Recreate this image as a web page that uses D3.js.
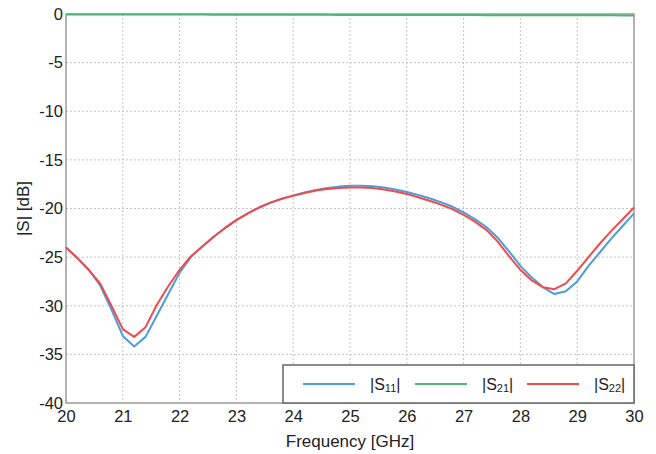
<!DOCTYPE html>
<html><head><meta charset="utf-8">
<script src="https://cdn.jsdelivr.net/npm/d3@7"></script>
<style>body{margin:0;background:#fff;} svg{display:block;font-family:"Liberation Sans",Arial,sans-serif;}</style>
</head><body><svg id="c" width="656" height="454"></svg>
<script>
const freq = [20.0,20.2,20.4,20.6,20.8,21.0,21.2,21.4,21.6,21.8,22.0,22.2,22.4,22.6,22.8,23.0,23.2,23.4,23.6,23.8,24.0,24.2,24.4,24.6,24.8,25.0,25.2,25.4,25.6,25.8,26.0,26.2,26.4,26.6,26.8,27.0,27.2,27.4,27.6,27.8,28.0,28.2,28.4,28.6,28.8,29.0,29.2,29.4,29.6,29.8,30.0];
const s11 = [-24.0,-25.1,-26.3,-27.9,-30.4,-33.1,-34.2,-33.2,-31.0,-28.8,-26.6,-25.0,-23.9,-22.9,-22.0,-21.2,-20.5,-19.9,-19.4,-19.0,-18.65,-18.35,-18.1,-17.9,-17.75,-17.65,-17.65,-17.7,-17.85,-18.05,-18.3,-18.6,-18.95,-19.35,-19.8,-20.4,-21.1,-21.9,-23.0,-24.4,-25.9,-27.1,-28.1,-28.8,-28.5,-27.5,-25.9,-24.5,-23.1,-21.8,-20.5];
const s21 = [-0.05,-0.05,-0.05,-0.05,-0.05,-0.05,-0.05,-0.05,-0.06,-0.06,-0.06,-0.06,-0.06,-0.07,-0.07,-0.07,-0.07,-0.07,-0.08,-0.08,-0.08,-0.08,-0.08,-0.09,-0.09,-0.09,-0.09,-0.09,-0.1,-0.1,-0.1,-0.1,-0.1,-0.11,-0.11,-0.11,-0.11,-0.12,-0.12,-0.12,-0.12,-0.13,-0.13,-0.13,-0.13,-0.14,-0.14,-0.14,-0.14,-0.15,-0.15];
const s22 = [-24.0,-25.1,-26.3,-27.7,-30.0,-32.4,-33.2,-32.2,-29.9,-28.0,-26.3,-24.9,-23.9,-22.9,-22.0,-21.2,-20.5,-19.9,-19.4,-19.0,-18.7,-18.4,-18.15,-18.0,-17.9,-17.85,-17.85,-17.9,-18.05,-18.25,-18.5,-18.85,-19.2,-19.6,-20.05,-20.65,-21.35,-22.2,-23.4,-24.9,-26.3,-27.4,-28.1,-28.3,-27.7,-26.4,-25.0,-23.6,-22.3,-21.1,-19.9];
const xTicks = [20,21,22,23,24,25,26,27,28,29,30];
const yTicks = [0,-5,-10,-15,-20,-25,-30,-35,-40];
const seriesNames = ["S11","S21","S22"];
const seriesColors = ["#4d9ddb","#4cb774","#f24a4a"];

const FONT = "Liberation Sans, Arial, sans-serif";
const svg = d3.select("#c");
const L = 66, R = 634, T = 14, B = 403;
const x = d3.scaleLinear().domain([20,30]).range([L,R]);
const y = d3.scaleLinear().domain([-40,0]).range([B,T]);

// grid
const g = svg.append("g");
g.selectAll(".vg").data(xTicks.slice(1,-1)).enter().append("line")
 .attr("x1",d=>x(d)).attr("x2",d=>x(d)).attr("y1",T).attr("y2",B)
 .attr("stroke","#c4c4c4").attr("stroke-dasharray","2,2").attr("stroke-width",1);
g.selectAll(".hg").data(yTicks.slice(1,-1)).enter().append("line")
 .attr("x1",L).attr("x2",R).attr("y1",d=>y(d)).attr("y2",d=>y(d))
 .attr("stroke","#c4c4c4").attr("stroke-dasharray","2,2").attr("stroke-width",1);

// frame
svg.append("rect").attr("x",L).attr("y",T).attr("width",R-L).attr("height",B-T)
 .attr("fill","none").attr("stroke","#9a9a9a").attr("stroke-width",1.5);

// axes labels
const fmt = d => String(d);
const xa = svg.append("g").attr("transform",`translate(0,${B})`)
 .call(d3.axisBottom(x).tickValues(xTicks).tickSize(0).tickPadding(7).tickFormat(fmt))
 .attr("font-family",FONT);
xa.select(".domain").remove();
xa.selectAll("text").attr("font-size",16.5).attr("fill","#222");
const ya = svg.append("g").attr("transform",`translate(${L},0)`)
 .call(d3.axisLeft(y).tickValues(yTicks).tickSize(0).tickPadding(3).tickFormat(fmt))
 .attr("font-family",FONT);
ya.select(".domain").remove();
ya.selectAll("text").attr("font-size",16.5).attr("fill","#222");

svg.append("text").attr("x",(L+R)/2).attr("y",447).attr("text-anchor","middle")
 .attr("font-size",17).attr("fill","#222").text("Frequency [GHz]");
svg.append("text").attr("transform",`translate(29,${(T+B)/2}) rotate(-90)`).attr("text-anchor","middle")
 .attr("font-size",17).attr("fill","#222").text("|S| [dB]");

// lines
const line = d3.line().x((d,i)=>x(freq[i])).y(d=>y(d));
const data = [s11,s21,s22];
data.forEach((s,k)=>{
  svg.append("path").datum(s).attr("d",line).attr("fill","none")
   .attr("stroke",seriesColors[k]).attr("stroke-width",2).attr("stroke-linejoin","round");
});

// legend
const lg = svg.append("g");
lg.append("rect").attr("x",283).attr("y",365).attr("width",R-283).attr("height",B-365)
 .attr("fill","#fff").attr("stroke","#666").attr("stroke-width",1.5);
const lx = [303,415,527];
seriesNames.forEach((n,k)=>{
  lg.append("line").attr("x1",lx[k]).attr("x2",lx[k]+52).attr("y1",384).attr("y2",384)
   .attr("stroke",seriesColors[k]).attr("stroke-width",2);
  const t = lg.append("text").attr("x",lx[k]+67).attr("y",390).attr("font-size",16).attr("fill","#222");
  t.append("tspan").text("|S");
  t.append("tspan").attr("font-size",11).attr("dy",2).text(n.slice(1));
  t.append("tspan").attr("dy",-2).text("|");
});
</script></body></html>
